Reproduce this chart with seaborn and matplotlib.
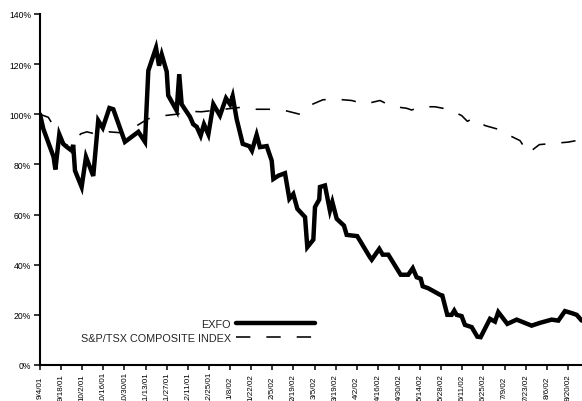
import matplotlib
matplotlib.use("Agg")
import matplotlib.pyplot as plt
import seaborn as sns
import pandas as pd

# ---------------- data ----------------
start_date = "2001-09-04"

exfo_day = [0, 2.2, 9, 10.2, 12.8, 15.4, 17.7, 21, 22, 23.2, 27.6, 30.5, 35.3, 38.6,
            41.6, 46, 48.6, 56.3, 65.2, 69.6, 71.8, 76.9, 78.9, 80.7, 84, 85, 90.6,
            92.3, 93.9, 99.4, 101.6, 103.9, 106.5, 108.7, 111.6, 114.9, 119.3, 123.3,
            126, 127.7, 130.4, 134.4, 138.7, 140.5, 143.6, 145.8, 150.3, 153.6, 154.7,
            158, 162.4, 165.3, 167.9, 170.6, 175.7, 177.2, 181.2, 182.3, 185.1, 185.6,
            188.9, 192.2, 193.8, 196.7, 201.5, 203.3, 210.3, 218.7, 219.9, 224.9,
            227.2, 230.9, 239.1, 244.1, 247.1, 249.7, 252.4, 253.7, 257.4, 265.2,
            266.7, 270, 272.9, 274.6, 276.2, 279.5, 281.7, 286.2, 289.9, 292.1, 298.3,
            301.6, 303.8, 309.8, 316, 325.9, 331.4, 339.2, 343.6, 348, 352.5, 355.8,
            359.1]
exfo_pct = [100, 94.2, 83, 78, 92, 88.2, 87, 85.5, 87.8, 77.5, 71, 83, 75.4, 97.5,
            94.6, 102.5, 102, 89, 93, 89, 117.4, 126.5, 119.4, 123.8, 117, 107.5, 101.5,
            116, 104, 99, 96, 95, 91.5, 96, 92, 104, 99.5, 106.4,
            104, 107.2, 98, 88.2, 87.3, 85.5, 91.8, 86.9, 87.3, 81.5, 74.2,
            75.5, 76.5, 66.3, 68.2, 62.3, 59, 47, 50, 63, 66, 71,
            71.6, 61.6, 65, 58.3, 55.6, 51.9, 51.4, 43, 42, 46.3,
            44, 44, 36, 36, 38.6, 35, 34.4, 31.4, 30.6, 28,
            27.7, 20, 20, 21.7, 20, 19.5, 16, 15.1, 11.3, 11.1, 18.4,
            17.3, 21.1, 16.4, 18.1, 15.7, 16.8, 18.1, 17.7, 21.5, 20.7, 20,
            17.7]

tsx_day = [0, 5.5, 7.8, 15.4, 19.4, 27, 31, 36.5, 45.7, 54.4, 63, 71.6, 81.5, 91.5,
           98.8, 107, 133.7, 143.6, 153.6, 162.4, 172.3, 179.4, 187.6, 196.7, 206.6,
           215.4, 225.4, 233.1, 243, 246.4, 251.9, 261.8, 270.6, 279.5, 283.3, 287.2,
           295, 302.7, 310.4, 318.2, 323.7, 331, 340.3, 350.2, 358]
tsx_pct = [100, 98.8, 96.5, 88, 87.5, 92.2, 93, 92.2, 93, 92.6, 95, 98.2, 99.4, 100.1,
           101.2, 101, 102.8, 102, 102, 101.5, 100, 103.7, 105.8, 106, 105.5,
           104.1, 105.5, 103.2, 102.4, 101.7, 103, 103, 102, 99.5, 97.2, 98.4,
           95.5, 94.2, 91.8, 89.5, 84.5, 87.9, 88.4, 88.9, 89.8]

xtick_dates = ["2001-09-04", "2001-09-18", "2001-10-02", "2001-10-16", "2001-10-30",
               "2001-11-13", "2001-11-27", "2001-12-11", "2001-12-25", "2002-01-08",
               "2002-01-22", "2002-02-05", "2002-02-19", "2002-03-05", "2002-03-19",
               "2002-04-02", "2002-04-16", "2002-04-30", "2002-05-14", "2002-05-28",
               "2002-06-11", "2002-06-25", "2002-07-09", "2002-07-23", "2002-08-06",
               "2002-08-20"]
xtick_labels = ["9/4/01", "9/18/01", "10/2/01", "10/16/01", "10/30/01", "11/13/01",
                "11/27/01", "12/11/01", "12/25/01", "1/8/02", "1/22/02", "2/5/02",
                "2/19/02", "3/5/02", "3/19/02", "4/2/02", "4/16/02", "4/30/02",
                "5/14/02", "5/28/02", "6/11/02", "6/25/02", "7/9/02", "7/23/02",
                "8/6/02", "8/20/02"]
ytick_values = [0, 20, 40, 60, 80, 100, 120, 140]
ytick_labels = ["0%", "20%", "40%", "60%", "80%", "100%", "120%", "140%"]
series_names = ["EXFO", "S&P/TSX COMPOSITE INDEX"]
x_end_day = 359.3

# ---------------- build frames ----------------
t0 = pd.Timestamp(start_date)
df_exfo = pd.DataFrame({"date": t0 + pd.to_timedelta(exfo_day, unit="D"), "pct": exfo_pct})
df_tsx = pd.DataFrame({"date": t0 + pd.to_timedelta(tsx_day, unit="D"), "pct": tsx_pct})

sns.set_style("white")
plt.rcParams["font.family"] = ["Liberation Sans", "DejaVu Sans"]

fig = plt.figure(figsize=(5.82, 4.02), dpi=100)
ax = fig.add_axes([40 / 582, 36 / 402, 542 / 582, 351 / 402])

sns.lineplot(data=df_exfo, x="date", y="pct", ax=ax, color="black", linewidth=3.2,
             estimator=None, sort=False, label=series_names[0],
             solid_joinstyle="miter")
sns.lineplot(data=df_tsx, x="date", y="pct", ax=ax, color="black", linewidth=1.15,
             estimator=None, sort=False, label=series_names[1],
             linestyle=(0, (9, 10)))

ax.set_xlim(t0, t0 + pd.Timedelta(days=x_end_day))
ax.set_ylim(ytick_values[0], ytick_values[-1])

ax.set_xticks(pd.to_datetime(xtick_dates))
ax.set_xticklabels(xtick_labels, rotation=90, ha="center", va="center", fontsize=5.8)
ax.set_yticks(ytick_values)
ax.set_yticklabels(ytick_labels, fontsize=6.2)
ax.set_xlabel("")
ax.set_ylabel("")

ax.tick_params(axis="x", bottom=True, direction="out", length=3.6, width=1.1,
               pad=11.8, colors="black")
ax.tick_params(axis="y", left=True, direction="out", length=4.5, width=1.1,
               pad=2.0, colors="black")

sns.despine(ax=ax)
for s in ("left", "bottom"):
    ax.spines[s].set_color("black")
    ax.spines[s].set_linewidth(1.5)

leg = ax.legend(loc="lower right", bbox_to_anchor=(0.507, 0.062), frameon=False,
                markerfirst=False, fontsize=7.8, handlelength=7.3, handletextpad=0.46,
                borderaxespad=0, borderpad=0, labelspacing=0.4)

fig.savefig("out.png", dpi=100)
